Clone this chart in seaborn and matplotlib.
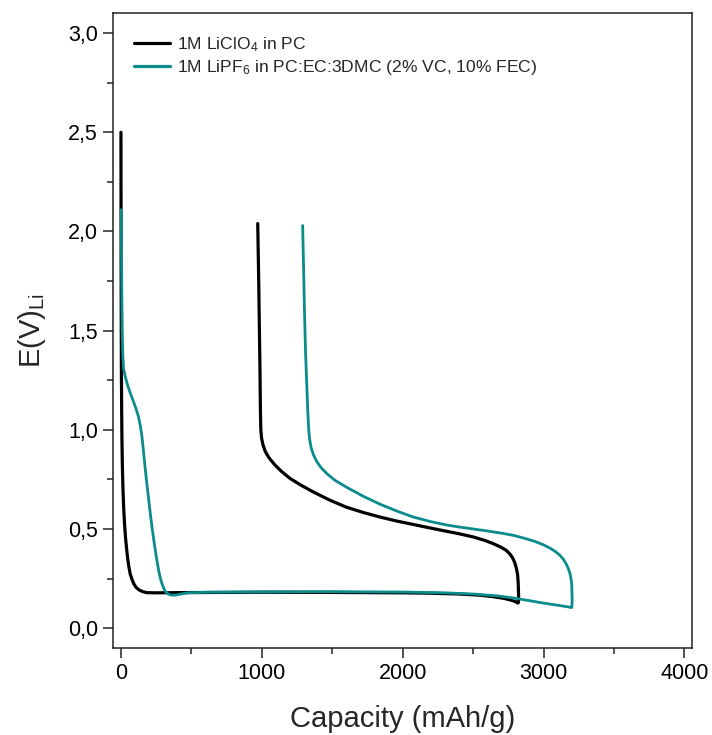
import matplotlib
matplotlib.use("Agg")
import matplotlib.pyplot as plt
import seaborn as sns
import pandas as pd
from matplotlib.ticker import MultipleLocator

sns.set_style("ticks")
plt.rcParams['font.family'] = ['Liberation Sans', 'DejaVu Sans']
plt.rcParams['mathtext.default'] = 'regular'

# ---- data ----
series_names = ["1M LiClO$_4$ in PC",
                "1M LiPF$_6$ in PC:EC:3DMC (2% VC, 10% FEC)"]
series_colors = ["#000000", "#0b8c8c"]

# 1M LiClO4 in PC: discharge then charge (continuous path)
cap_liclo4 = [0, 0.5, 1, 2, 3, 5, 7, 10, 14, 19, 25, 32, 40, 48, 56, 65, 76, 90, 108, 130,
              155, 182, 250, 400, 700, 1000, 1500, 2000, 2200, 2400, 2550, 2650, 2720, 2770,
              2800, 2818,
              2822, 2823, 2822, 2820, 2816, 2808, 2796, 2780, 2760, 2730, 2692, 2640, 2580,
              2500, 2400, 2300, 2195, 2080, 1958, 1840, 1721, 1600, 1484, 1370, 1280, 1200,
              1140, 1090, 1050, 1025, 1008, 998, 993, 990, 987, 983, 978, 971]
v_liclo4 = [2.50, 2.20, 1.90, 1.55, 1.30, 1.10, 0.95, 0.82, 0.71, 0.61, 0.53, 0.46, 0.40,
            0.35, 0.31, 0.275, 0.25, 0.225, 0.205, 0.192, 0.184, 0.179, 0.178, 0.179, 0.180,
            0.181, 0.180, 0.178, 0.176, 0.172, 0.166, 0.158, 0.150, 0.141, 0.134, 0.126,
            0.130, 0.160, 0.190, 0.230, 0.270, 0.300, 0.330, 0.355, 0.375, 0.395, 0.410,
            0.427, 0.443, 0.460, 0.476, 0.490, 0.505, 0.522, 0.540, 0.560, 0.583, 0.610,
            0.645, 0.685, 0.720, 0.755, 0.790, 0.825, 0.860, 0.890, 0.925, 0.960, 1.000,
            1.100, 1.300, 1.500, 1.750, 2.040]

# 1M LiPF6 in PC:EC:3DMC (2% VC, 10% FEC): discharge then charge
cap_lipf6 = [3, 4, 6, 9, 13, 18, 30, 45, 64, 85, 105, 123, 138, 150, 160, 170, 182, 195, 208,
             222, 238, 253, 268, 282, 298, 315, 335, 360, 390, 425, 470, 600, 1000, 1500,
             2000, 2300, 2500, 2668, 2786, 2905, 2976, 3094, 3150, 3201,
             3203, 3202, 3200, 3195, 3188, 3176, 3160, 3140, 3115, 3085, 3047, 3000, 2940,
             2870, 2786, 2700, 2600, 2500, 2400, 2313, 2200, 2076, 1960, 1839, 1720, 1603,
             1520, 1460, 1420, 1390, 1366, 1350, 1340, 1333, 1326, 1318, 1310, 1303, 1297,
             1290]
v_lipf6 = [2.11, 1.90, 1.70, 1.50, 1.38, 1.31, 1.27, 1.23, 1.19, 1.15, 1.11, 1.07, 1.02, 0.96,
           0.89, 0.82, 0.74, 0.66, 0.58, 0.50, 0.42, 0.35, 0.29, 0.245, 0.21, 0.185, 0.172,
           0.166, 0.167, 0.172, 0.178, 0.181, 0.183, 0.184, 0.182, 0.178, 0.172, 0.163,
           0.152, 0.138, 0.129, 0.116, 0.110, 0.104,
           0.140, 0.180, 0.220, 0.250, 0.275, 0.300, 0.325, 0.348, 0.368, 0.386, 0.403,
           0.420, 0.437, 0.452, 0.468, 0.479, 0.490, 0.500, 0.510, 0.520, 0.537, 0.560,
           0.590, 0.625, 0.665, 0.710, 0.745, 0.780, 0.810, 0.840, 0.875, 0.910, 0.950,
           1.000, 1.100, 1.250, 1.400, 1.600, 1.800, 2.030]

x_ticks = [0, 1000, 2000, 3000, 4000]
y_ticks = [0.0, 0.5, 1.0, 1.5, 2.0, 2.5, 3.0]
y_tick_labels = ["0,0", "0,5", "1,0", "1,5", "2,0", "2,5", "3,0"]

df = pd.concat([
    pd.DataFrame({"Capacity": cap_liclo4, "E": v_liclo4, "series": series_names[0]}),
    pd.DataFrame({"Capacity": cap_lipf6, "E": v_lipf6, "series": series_names[1]}),
], ignore_index=True)

fig = plt.figure(figsize=(7.12, 7.35), dpi=100)
ax = fig.add_axes([0.159, 0.1184, 0.9715 - 0.159, 0.9819 - 0.1184])

sns.lineplot(data=df, x="Capacity", y="E", hue="series", hue_order=series_names,
             palette=series_colors, sort=False, estimator=None, ax=ax, linewidth=2.0)

for line, lw in zip(ax.get_lines()[:2], [2.3, 2.0]):
    line.set_linewidth(lw)
    line.set_solid_joinstyle("round")

ax.set_xlim(-55, 4052)
ax.set_ylim(-0.1, 3.1)
ax.set_xticks(x_ticks)
ax.set_yticks(y_ticks)
ax.set_yticklabels(y_tick_labels)
ax.xaxis.set_minor_locator(MultipleLocator(500))
ax.yaxis.set_minor_locator(MultipleLocator(0.25))
ax.tick_params(which="major", direction="out", length=7, width=1.1, labelsize=15.5,
               colors="#222222", pad=4)
ax.tick_params(which="minor", direction="out", length=4.5, width=1.1, colors="#222222")
ax.tick_params(axis="both", labelcolor="black")
for s in ax.spines.values():
    s.set_visible(True)
    s.set_linewidth(1.1)
    s.set_color("#222222")

ax.set_xlabel("Capacity (mAh/g)", fontsize=21, labelpad=15)
ax.set_ylabel("E(V)$_{Li}$", fontsize=21, labelpad=14)

leg = ax.legend(loc="upper left", bbox_to_anchor=(0.008, 0.99), frameon=False,
                fontsize=12.6, handlelength=2.1, handletextpad=0.4, labelspacing=0.22,
                borderaxespad=0.5)
for h in leg.get_lines():
    h.set_linewidth(2.3)

fig.savefig("out.png", dpi=100)
